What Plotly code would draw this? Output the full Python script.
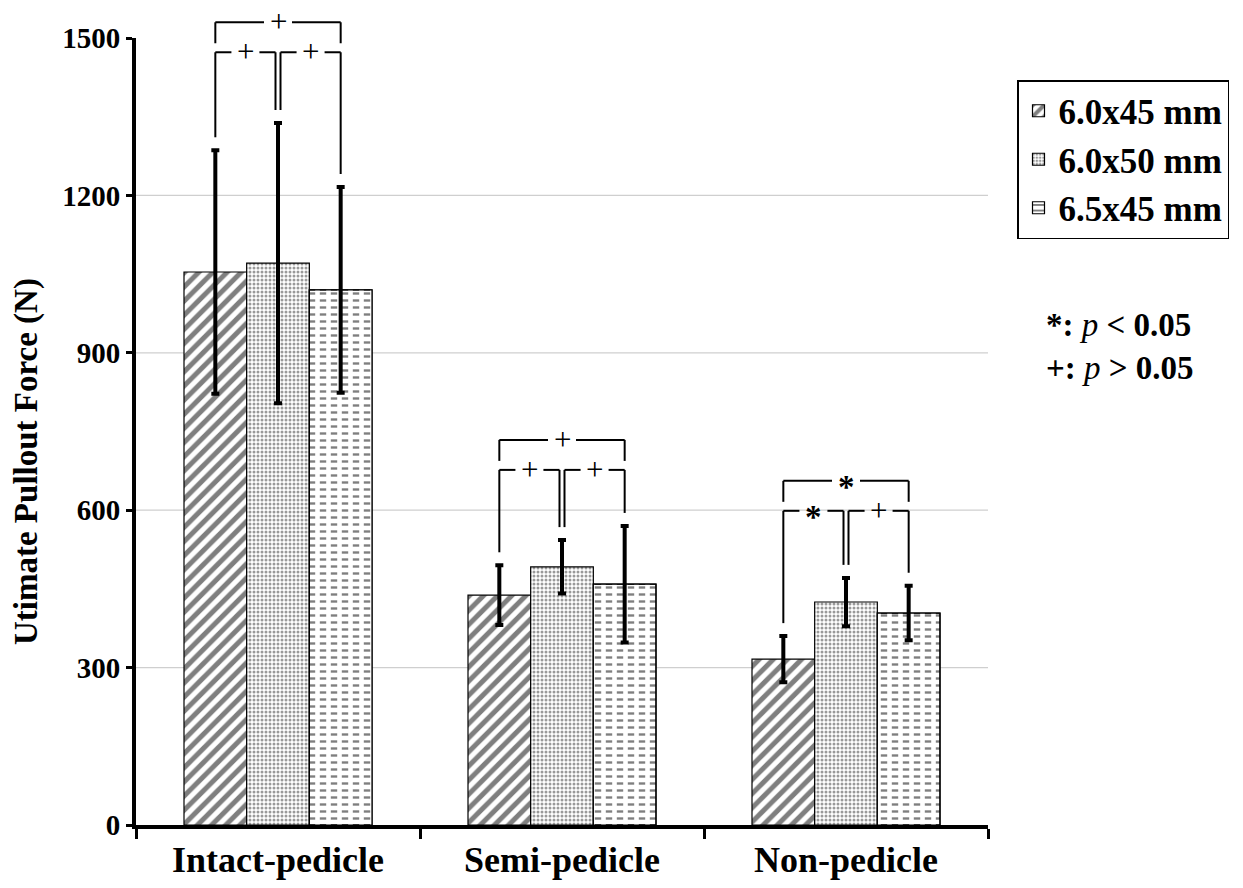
import plotly.graph_objects as go

# ---------------- data ----------------
categories = ["Intact-pedicle", "Semi-pedicle", "Non-pedicle"]
series_names = ["6.0x45 mm", "6.0x50 mm", "6.5x45 mm"]
mean_60x45 = [1054, 438, 316]
mean_60x50 = [1071, 492, 425]
mean_65x45 = [1020, 459, 404]
sd_60x45 = [232, 57, 44]
sd_60x50 = [267, 51, 46]
sd_65x45 = [196, 111, 52]
# significance labels per group: 6.0x45 vs 6.5x45, 6.0x45 vs 6.0x50, 6.0x50 vs 6.5x45
sig_outer = ["+", "+", "*"]
sig_left = ["+", "+", "*"]
sig_right = ["+", "+", "+"]
bracket_level = [1530, 734, 656]
y_ticks = [0, 300, 600, 900, 1200, 1500]
legend_notes = ["*", "+"]
note_ops = ["&lt;", "&gt;"]

# ---------------- layout constants ----------------
FW, FH = 1243, 888
ML, MT = 136, 38
plot_w, plot_h = 852, 787
MR = FW - ML - plot_w
MB = FH - MT - plot_h
YMAX = 1500
vpp = YMAX / plot_h                     # value per pixel
cpp = 1.0 / (plot_w / len(categories))  # category units per pixel
BARGAP = 0.338
bw = (1 - BARGAP) / 3
FONT = "Liberation Serif, Times New Roman, serif"


def xp(rx):  # screen px -> paper x
    return (rx - ML) / plot_w


def yp(ry):  # screen px -> paper y
    return (MT + plot_h - ry) / plot_h


means = [mean_60x45, mean_60x50, mean_65x45]
sds = [sd_60x45, sd_60x50, sd_65x45]

patterns = [
    dict(shape="/", fgcolor="black", bgcolor="white", size=10, solidity=0.5),
    dict(shape=".", fgcolor="#333333", bgcolor="white", size=4, solidity=0.45),
    dict(shape="-", fgcolor="black", bgcolor="white", size=7, solidity=0.34),
]

err_style = dict(type="data", visible=True, color="black", thickness=4, width=4)

fig = go.Figure()
for k in range(3):
    fig.add_trace(go.Bar(
        x=categories, y=means[k], name=series_names[k],
        offsetgroup=str(k),
        marker=dict(color="white", line=dict(color="black", width=1.2),
                    pattern=patterns[k]),
        error_y=dict(array=sds[k], **err_style) if k < 2 else None,
    ))
# overlay to break the horizontal lines of the third pattern into dashes
fig.add_trace(go.Bar(
    x=categories, y=mean_65x45, name=series_names[2], showlegend=False,
    offsetgroup="2",
    marker=dict(color="rgba(0,0,0,0)", line=dict(color="black", width=1.2),
                pattern=dict(shape="|", fgcolor="white", bgcolor="rgba(0,0,0,0)",
                             fillmode="replace", size=11, solidity=0.42)),
    error_y=dict(array=sd_65x45, **err_style),
))

shapes = []
annotations = []
LINE = dict(color="black", width=2)


def vline(x, y0, y1):
    shapes.append(dict(type="line", xref="x", yref="paper", x0=x, x1=x,
                       y0=y0 / YMAX, y1=y1 / YMAX, line=LINE))


def hline_label(x0, x1, y, txt):
    xc = (x0 + x1) / 2
    hg = 14 * cpp
    for a, b in ((x0, xc - hg), (xc + hg, x1)):
        shapes.append(dict(type="line", xref="x", yref="paper", x0=a, x1=b,
                           y0=y / YMAX, y1=y / YMAX, line=LINE))
    star = txt == "*"
    annotations.append(dict(
        x=xc, y=y / YMAX, xref="x", yref="paper", text=("<b>*</b>" if star else txt),
        xanchor="center", yanchor="middle", showarrow=False,
        height=22, borderpad=0,
        yshift=-6 if star else 1,
        font=dict(family=FONT, size=33 if star else 31, color="black"),
    ))


gap = 13 * vpp
for i in range(len(categories)):
    xs = [i - bw, i, i + bw]
    caps = [means[k][i] + sds[k][i] for k in range(3)]
    ytop = bracket_level[i]
    ylow = ytop - 30 * vpp
    d = 2.5 * cpp
    # outer bracket
    hline_label(xs[0], xs[2], ytop, sig_outer[i])
    vline(xs[0], ytop, ytop - 21 * vpp)
    vline(xs[2], ytop, ytop - 21 * vpp)
    # left bracket
    hline_label(xs[0], xs[1] - d, ylow, sig_left[i])
    vline(xs[0], ylow, caps[0] + gap)
    vline(xs[1] - d, ylow, caps[1] + gap)
    # right bracket
    hline_label(xs[1] + d, xs[2], ylow, sig_right[i])
    vline(xs[1] + d, ylow, caps[1] + gap)
    vline(xs[2], ylow, caps[2] + gap)

# grid lines (interior ticks only)
for v in y_ticks[1:-1]:
    shapes.append(dict(type="line", xref="paper", yref="y", x0=0, x1=1, y0=v, y1=v,
                       layer="below", line=dict(color="#cfcfcf", width=1.2)))

# p-value notes
for j, (sym, op) in enumerate(zip(legend_notes, note_ops)):
    annotations.append(dict(
        xref="paper", yref="paper", x=xp(1044), y=yp(325 + 43 * j),
        xanchor="left", yanchor="middle", showarrow=False,
        text=f"<b>{sym}:</b> <i>p</i> <b>{op} 0.05</b>",
        font=dict(family=FONT, size=33, color="black"),
    ))

# y-axis title
annotations.append(dict(
    xref="paper", yref="paper", x=xp(27), y=yp(462),
    xanchor="center", yanchor="middle", showarrow=False, textangle=-90,
    text="<b>Utimate Pullout Force (N)</b>",
    font=dict(family=FONT, size=33, color="black"),
))

fig.update_layout(
    width=FW, height=FH,
    margin=dict(l=ML, r=MR, t=MT, b=MB),
    plot_bgcolor="white", paper_bgcolor="white",
    barmode="group", bargap=BARGAP, bargroupgap=0,
    font=dict(family=FONT, color="black"),
    shapes=shapes, annotations=annotations,
    legend=dict(
        x=xp(1017), y=yp(80),
        xanchor="left", yanchor="top",
        bordercolor="black", borderwidth=1.5, bgcolor="white",
        font=dict(family=FONT, size=35, color="black", weight="bold"),
        itemwidth=30, tracegroupgap=0,
    ),
    xaxis=dict(
        type="category", showline=True, linecolor="black", linewidth=4,
        ticks="outside", tickson="boundaries", ticklen=10, tickwidth=3,
        tickcolor="black", showgrid=False, automargin=False,
        tickfont=dict(family=FONT, size=36, color="black", weight="bold"),
    ),
    yaxis=dict(
        range=[0, YMAX], tickvals=y_ticks, showline=True, linecolor="black",
        linewidth=4, ticks="outside", ticklen=6, tickwidth=3, tickcolor="black",
        showgrid=False, zeroline=False, automargin=False,
        tickfont=dict(family=FONT, size=29, color="black", weight="bold"),
    ),
)

fig.write_html("out.html",
               config={"displayModeBar": False},
               post_script="document.body.style.margin='0px';"
                           "document.body.style.overflow='hidden';")
